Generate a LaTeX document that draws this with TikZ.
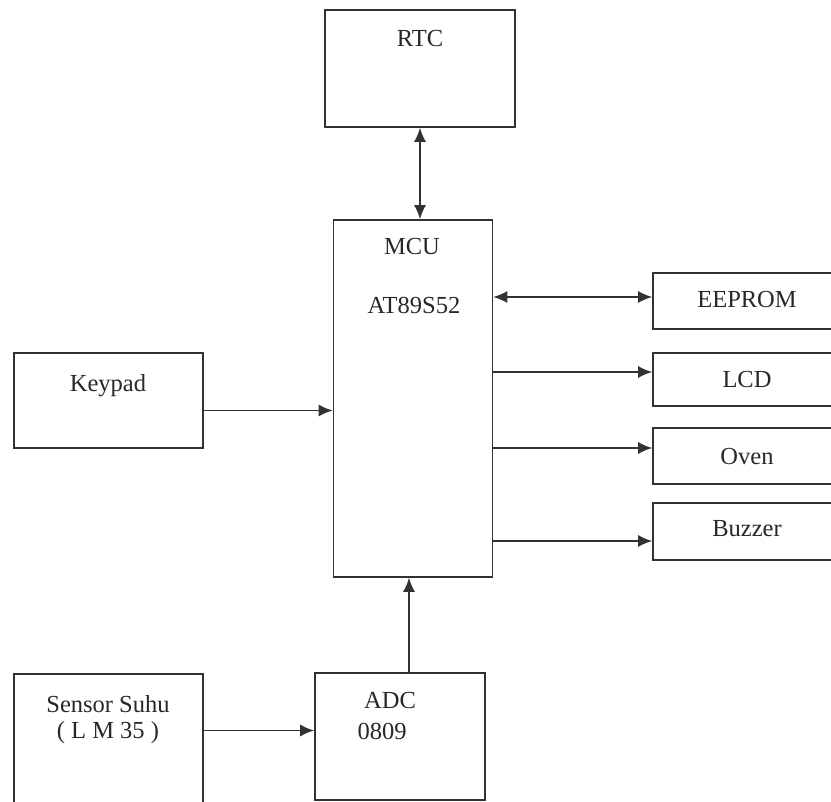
\documentclass[tikz,border=0pt]{standalone}
\usepackage{fontspec}
\setmainfont{Liberation Serif}
\usetikzlibrary{arrows.meta}
\definecolor{linegray}{RGB}{50, 50, 50}
\definecolor{textgray}{RGB}{40, 40, 40}

\begin{document}
\begin{tikzpicture}[x=1pt, y=-1pt,
  blok/.style={draw=linegray, line width=1.6pt, rectangle, inner sep=0pt},
  teks/.style={text=textgray, inner sep=0pt, font=\fontsize{24.5}{26}\selectfont},
  panah/.style={draw=linegray, line width=1.6pt, -{Latex[length=14pt, width=12pt]}},
  panahdua/.style={draw=linegray, line width=1.6pt, {Latex[length=14pt, width=12pt]}-{Latex[length=14pt, width=12pt]}}]
  \useasboundingbox[fill=white] (0,0) rectangle (831,802);
  \clip (0,0) rectangle (831,802);
  % Blok diagram sistem oven
  \node[blok, minimum width=190pt, minimum height=117pt] (rtc) at (420,68.5) {};
  \node[blok, minimum width=159pt, minimum height=357pt] (mcu) at (413,398.5) {};
  \node[blok, minimum width=188pt, minimum height=56pt] (eeprom) at (747,301) {};
  \node[blok, minimum width=188pt, minimum height=53pt] (lcd) at (747,379.5) {};
  \node[blok, minimum width=188pt, minimum height=56pt] (oven) at (747,456) {};
  \node[blok, minimum width=188pt, minimum height=57pt] (buzzer) at (747,531.5) {};
  \node[blok, minimum width=189pt, minimum height=95pt] (keypad) at (108.5,400.5) {};
  \node[blok, minimum width=189pt, minimum height=141pt] (sensor) at (108.5,744.5) {};
  \node[blok, minimum width=170pt, minimum height=127pt] (adc) at (400,736.5) {};

  \node[teks] (trtc) at (420,39) {RTC};
  \node[teks] (tmcu) at (412,247) {MCU};
  \node[teks] (tat) at (414,305) {AT89S52};
  \node[teks] (teeprom) at (747,300) {EEPROM};
  \node[teks] (tlcd) at (747,380) {LCD};
  \node[teks] (toven) at (747,457) {Oven};
  \node[teks] (tbuzzer) at (747,529) {Buzzer};
  \node[teks] (tkeypad) at (108,386) {Keypad};
  \node[teks] (tsensor) at (108,704) {Sensor Suhu};
  \node[teks] (tlm) at (108,733) {( L M 35 )};
  \node[teks] (tadc) at (390,701) {ADC};
  \node[teks] (tnum) at (382,731) {0809};

  \draw[panahdua] (rtc.south) -- (rtc.south |- mcu.north);
  \draw[panahdua] ([yshift=4pt]eeprom.west -| mcu.east) -- ([yshift=4pt]eeprom.west);
  \draw[panah] ([yshift=7.5pt]lcd.west -| mcu.east) -- ([yshift=7.5pt]lcd.west);
  \draw[panah] ([yshift=8pt]oven.west -| mcu.east) -- ([yshift=8pt]oven.west);
  \draw[panah] ([yshift=-9.5pt]buzzer.west -| mcu.east) -- ([yshift=-9.5pt]buzzer.west);
  \draw[panah] ([yshift=-10pt]keypad.east) -- ([yshift=-10pt]keypad.east -| mcu.west);
  \draw[panah] ([yshift=14pt]sensor.east) -- ([yshift=14pt]sensor.east -| adc.west);
  \draw[panah] ([xshift=9pt]adc.north) -- ([xshift=9pt]adc.north |- mcu.south);
\end{tikzpicture}
\end{document}
